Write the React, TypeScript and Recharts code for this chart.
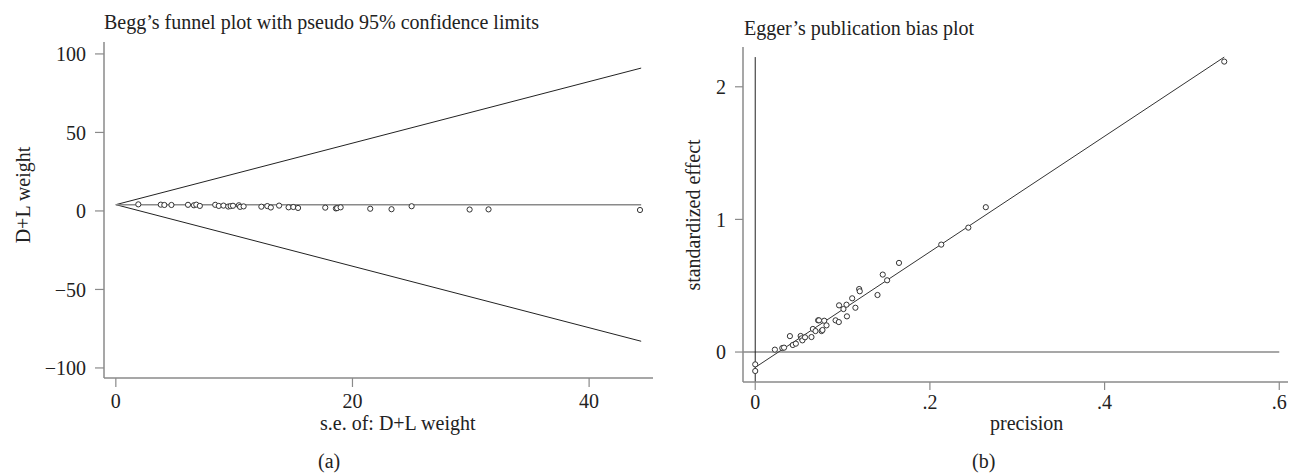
import React from "react";
import {
  ComposedChart,
  ReferenceLine,
  Scatter,
  XAxis,
  YAxis,
} from "recharts";

// Begg's funnel plot: s.e. vs D+L weight
const beggSe = [
  1.9, 3.8, 4.1, 4.7, 6.1, 6.6, 6.8, 7.1, 8.4, 8.7, 9.1, 9.5, 9.7, 9.9, 10.4,
  10.5, 10.8, 12.3, 12.8, 13.1, 13.8, 14.6, 15.0, 15.4, 17.7, 18.6, 18.7, 19.0,
  21.5, 23.3, 25.0, 29.9, 31.5, 44.3,
];
const beggWeight = [
  4.2, 4.0, 3.8, 3.8, 3.9, 3.6, 4.0, 3.2, 3.9, 3.2, 3.4, 2.8, 3.1, 3.3, 3.6,
  2.6, 2.9, 2.7, 3.1, 2.2, 3.4, 2.3, 2.5, 1.9, 2.1, 1.6, 1.8, 2.3, 1.4, 1.1,
  3.0, 0.9, 1.0, 0.6,
];
const beggPooled = 4;
const beggSeMax = 44.4;
const beggUpper = 91;
const beggLower = -83;
const beggXTicks = [0, 20, 40];
const beggYTicks = [-100, -50, 0, 50, 100];

// Egger's plot: precision vs standardized effect
const eggerPrecision = [
  0, 0, 0.0225, 0.031, 0.033, 0.0397, 0.043, 0.0465, 0.052, 0.053, 0.054,
  0.057, 0.0644, 0.066, 0.069, 0.072, 0.073, 0.076, 0.077, 0.079, 0.0816,
  0.092, 0.0957, 0.096, 0.101, 0.1045, 0.105, 0.111, 0.1147, 0.119, 0.1197,
  0.14, 0.146, 0.151, 0.1646, 0.213, 0.244, 0.264, 0.537,
];
const eggerEffect = [
  -0.093, -0.143, 0.018, 0.03, 0.033, 0.12, 0.053, 0.063, 0.121, 0.103, 0.088,
  0.111, 0.113, 0.174, 0.158, 0.239, 0.239, 0.158, 0.166, 0.236, 0.201, 0.239,
  0.226, 0.352, 0.324, 0.357, 0.269, 0.405, 0.334, 0.475, 0.458, 0.43, 0.584,
  0.541, 0.672, 0.81, 0.938, 1.092, 2.19,
];
const eggerIntercept = -0.116;
const eggerFitEnd = 0.537;
const eggerFitEndY = 2.224;
const eggerXTicks = [0, 0.2, 0.4, 0.6];
const eggerYTicks = [0, 1, 2];

const beggData = beggSe.map((x, i) => ({ x, y: beggWeight[i] }));
const eggerData = eggerPrecision.map((x, i) => ({ x, y: eggerEffect[i] }));

const FONT = "'Liberation Serif', 'DejaVu Serif', serif";
const AXIS = "#8a8a8a";
const INK = "#222";
const FS = 20;

const tickStyle = { fill: INK, fontSize: FS, fontFamily: FONT };

function Ring(props: any) {
  const { cx, cy } = props;
  if (cx == null || cy == null) return null;
  return <circle cx={cx} cy={cy} r={2.6} fill="#fff" stroke="#333" strokeWidth={1} />;
}

// Stata style: ".2" instead of "0.2"
function fmtDec(v: number) {
  if (v === 0) return "0";
  return String(v).replace(/^0\./, ".");
}

function fmtNeg(v: number) {
  return v < 0 ? `\u2212${Math.abs(v)}` : String(v);
}

const textBase: React.CSSProperties = {
  position: "absolute",
  fontFamily: FONT,
  fontSize: FS,
  lineHeight: `${FS}px`,
  color: INK,
  whiteSpace: "nowrap",
};

function VLabel({ x, y, children }: { x: number; y: number; children: React.ReactNode }) {
  return (
    <div
      style={{
        ...textBase,
        left: x,
        top: y,
        transform: "translate(-50%, -50%) rotate(-90deg)",
      }}
    >
      {children}
    </div>
  );
}

export default function App() {
  return (
    <div
      style={{
        position: "absolute",
        left: 0,
        top: 0,
        width: 1290,
        height: 474,
        background: "#fff",
      }}
    >
      <div style={{ position: "absolute", left: 0, top: 0 }}>
        <ComposedChart
          width={660}
          height={474}
          data={beggData}
          margin={{ top: 42, right: 7, bottom: 0, left: 0 }}
        >
          <XAxis
            type="number"
            dataKey="x"
            domain={[-1, 45.4]}
            ticks={beggXTicks}
            allowDataOverflow
            height={96}
            tick={tickStyle}
            tickSize={9}
            tickMargin={7}
            axisLine={{ stroke: AXIS, strokeWidth: 1.5 }}
            tickLine={{ stroke: AXIS, strokeWidth: 1.2 }}
          />
          <YAxis
            type="number"
            dataKey="y"
            domain={[-106.4, 107.6]}
            ticks={beggYTicks}
            allowDataOverflow
            width={104}
            tick={tickStyle}
            tickFormatter={fmtNeg}
            tickSize={9}
            tickMargin={9}
            axisLine={{ stroke: AXIS, strokeWidth: 1.5 }}
            tickLine={{ stroke: AXIS, strokeWidth: 1.2 }}
          />
          <ReferenceLine
            segment={[
              { x: 0, y: beggPooled },
              { x: beggSeMax, y: beggUpper },
            ]}
            stroke={INK}
            strokeWidth={1}
          />
          <ReferenceLine
            segment={[
              { x: 0, y: beggPooled },
              { x: beggSeMax, y: beggLower },
            ]}
            stroke={INK}
            strokeWidth={1}
          />
          <ReferenceLine
            segment={[
              { x: 0, y: beggPooled },
              { x: beggSeMax, y: beggPooled },
            ]}
            stroke={AXIS}
            strokeWidth={1.5}
          />
          <Scatter data={beggData} dataKey="y" shape={Ring} isAnimationActive={false} />
        </ComposedChart>
      </div>

      <div style={{ position: "absolute", left: 660, top: 0 }}>
        <ComposedChart
          width={630}
          height={474}
          data={eggerData}
          margin={{ top: 47, right: 2, bottom: 0, left: 0 }}
        >
          <XAxis
            type="number"
            dataKey="x"
            domain={[-0.014, 0.61]}
            ticks={eggerXTicks}
            allowDataOverflow
            height={92}
            tick={tickStyle}
            tickFormatter={fmtDec}
            tickSize={8}
            tickMargin={5}
            axisLine={{ stroke: AXIS, strokeWidth: 1.5 }}
            tickLine={{ stroke: AXIS, strokeWidth: 1.2 }}
          />
          <YAxis
            type="number"
            dataKey="y"
            domain={[-0.226, 2.3]}
            ticks={eggerYTicks}
            allowDataOverflow
            width={83}
            tick={tickStyle}
            tickSize={8}
            tickMargin={9}
            axisLine={{ stroke: AXIS, strokeWidth: 1.5 }}
            tickLine={{ stroke: AXIS, strokeWidth: 1.2 }}
          />
          <ReferenceLine
            segment={[
              { x: -0.014, y: 0 },
              { x: 0.6, y: 0 },
            ]}
            stroke={AXIS}
            strokeWidth={1.5}
          />
          <ReferenceLine
            segment={[
              { x: 0, y: -0.226 },
              { x: 0, y: eggerFitEndY },
            ]}
            stroke={INK}
            strokeWidth={1}
          />
          <ReferenceLine
            segment={[
              { x: 0, y: eggerIntercept },
              { x: eggerFitEnd, y: eggerFitEndY },
            ]}
            stroke="#333"
            strokeWidth={1}
          />
          <Scatter data={eggerData} dataKey="y" shape={Ring} isAnimationActive={false} />
        </ComposedChart>
      </div>

      <div style={{ ...textBase, left: 104, top: 12 }}>
        Begg’s funnel plot with pseudo 95% confidence limits
      </div>
      <VLabel x={23} y={195}>D+L weight</VLabel>
      <div style={{ ...textBase, left: 320, top: 413 }}>s.e. of: D+L weight</div>
      <div style={{ ...textBase, left: 318, top: 451 }}>(a)</div>

      <div style={{ ...textBase, left: 744, top: 18 }}>Egger’s publication bias plot</div>
      <VLabel x={693} y={215}>standardized effect</VLabel>
      <div style={{ ...textBase, left: 990, top: 413 }}>precision</div>
      <div style={{ ...textBase, left: 972, top: 451 }}>(b)</div>
    </div>
  );
}
